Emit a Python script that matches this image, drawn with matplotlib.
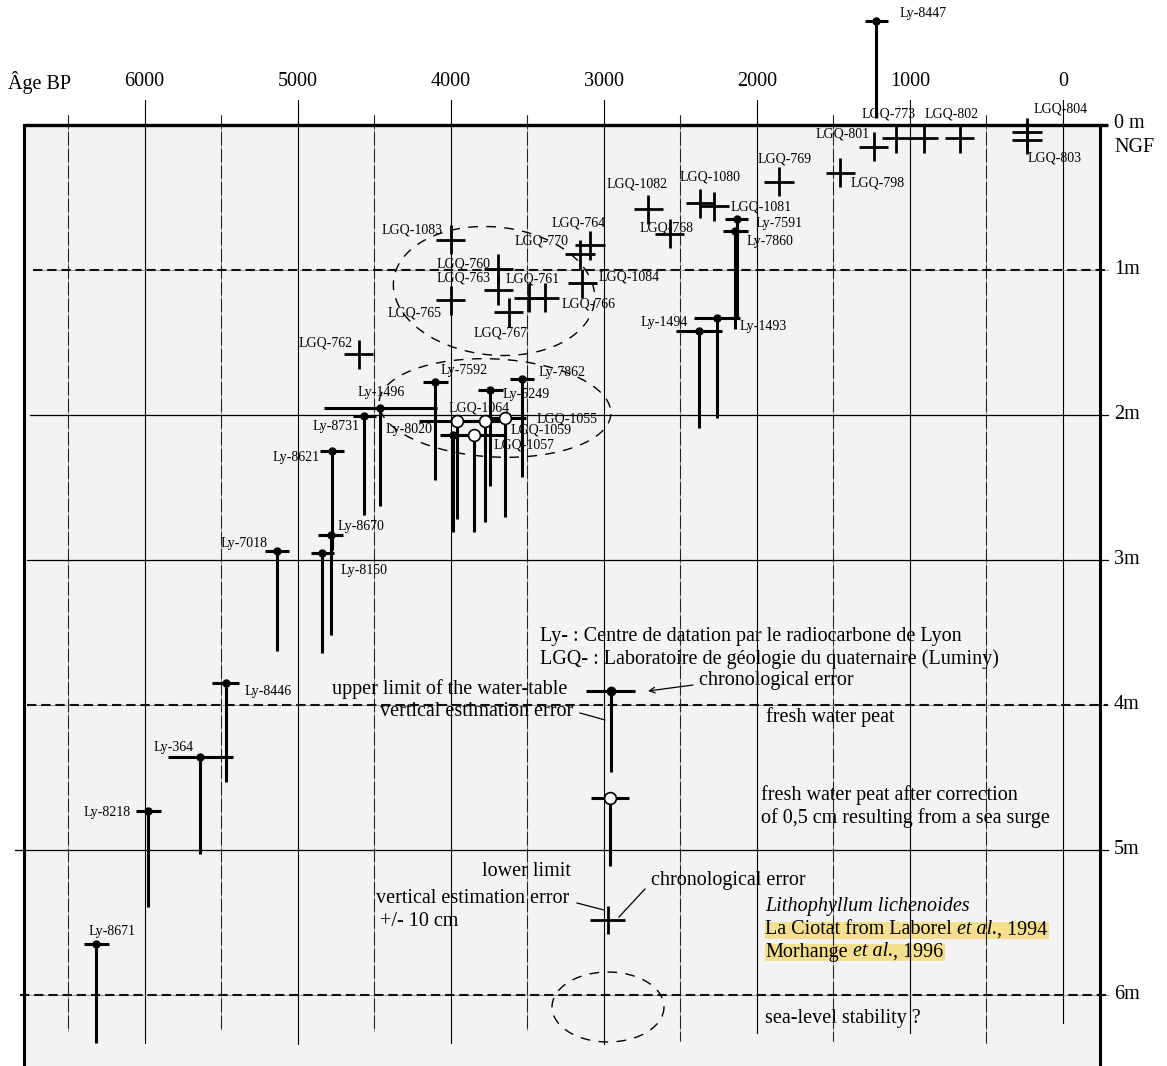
import matplotlib
matplotlib.use("Agg")
import matplotlib.pyplot as plt
from matplotlib.patches import Rectangle
from matplotlib.transforms import Bbox
import numpy as np

plt.rcParams['font.family'] = ['Liberation Serif', 'DejaVu Serif']

# ---------------- data ----------------
# Ly- samples: filled dot, chronological error (yr), vertical estimation error down to *_bottom (m)
ly_names = ['Ly-8447', 'Ly-7591', 'Ly-7860', 'Ly-1493', 'Ly-1494', 'Ly-7862', 'Ly-5249',
            'Ly-7592', 'Ly-1496', 'Ly-8731', 'Ly-8020', 'Ly-8621', 'Ly-8670', 'Ly-8150',
            'Ly-7018', 'Ly-8446', 'Ly-364', 'Ly-8218', 'Ly-8671']
ly_age = [1220, 2130, 2140, 2260, 2380, 3535, 3740, 4100, 4460, 4565, 3985, 4775, 4785, 4840,
          5135, 5470, 5635, 5975, 6315]
ly_age_err = [75, 75, 80, 150, 150, 80, 80, 80, 370, 75, 85, 80, 80, 75, 80, 90, 210, 80, 80]
ly_depth = [-0.72, 0.65, 0.73, 1.33, 1.42, 1.75, 1.83, 1.77, 1.95, 2.01, 2.14, 2.25, 2.83, 2.95,
            2.94, 3.85, 4.36, 4.73, 5.65]
ly_bottom = [-0.05, 1.33, 1.41, 2.02, 2.09, 2.43, 2.49, 2.45, 2.63, 2.69, 2.81, 2.93, 3.52, 3.64,
             3.63, 4.53, 5.03, 5.39, 6.33]

# LGQ- fresh water peat after correction (open circles)
peat_names = ['LGQ-1064', 'LGQ-1059', 'LGQ-1055', 'LGQ-1057']
peat_age = [3960, 3775, 3645, 3845]
peat_age_err = [250, 130, 140, 200]
peat_depth = [2.04, 2.04, 2.02, 2.14]
peat_bottom = [2.72, 2.74, 2.70, 2.81]

# LGQ- Lithophyllum lichenoides lower limits (crosses, +/- 10 cm)
lith_names = ['LGQ-1083', 'LGQ-760', 'LGQ-763', 'LGQ-765', 'LGQ-767', 'LGQ-761', 'LGQ-766',
              'LGQ-764', 'LGQ-770', 'LGQ-1084', 'LGQ-762', 'LGQ-1082', 'LGQ-768', 'LGQ-1080',
              'LGQ-1081', 'LGQ-769', 'LGQ-798', 'LGQ-801', 'LGQ-773', '', 'LGQ-802',
              'LGQ-804', 'LGQ-803']
lith_age = [4000, 3690, 3690, 4000, 3620, 3490, 3385, 3090, 3155, 3140, 4600, 2710, 2570, 2370,
            2280, 1855, 1455, 1235, 1090, 910, 675, 235, 235]
lith_depth = [0.79, 0.99, 1.14, 1.21, 1.29, 1.19, 1.19, 0.83, 0.89, 1.09, 1.58, 0.58, 0.75, 0.54,
              0.56, 0.39, 0.33, 0.15, 0.09, 0.09, 0.09, 0.05, 0.10]
lith_age_err = 95
lith_depth_err = 0.10

# legend example symbols
key_filled = dict(age=2955, err=160, depth=3.90, bottom=4.46)
key_open = dict(age=2960, err=125, depth=4.64, bottom=5.11)
key_cross = dict(age=2975, err=115, depth=5.48, derr=0.097)

age_ticks = [6000, 5000, 4000, 3000, 2000, 1000, 0]
grid_ages = [6500, 6000, 5500, 5000, 4500, 4000, 3500, 3000, 2500, 2000, 1500, 1000, 500, 0]
depth_levels = [1, 2, 3, 4, 5, 6]

# ---------------- layout ----------------
W, H, DPI = 1167, 1066, 100
X_ZERO_PX, PX_PER_YEAR = 1063.0, 0.15308
Y_ZERO_PX, PX_PER_M = 125.0, 145.0


def px(x, y):
    return (X_ZERO_PX - x) / PX_PER_YEAR, (y - Y_ZERO_PX) / PX_PER_M


fig = plt.figure(figsize=(W / DPI, H / DPI), dpi=DPI)
ax = fig.add_axes([0, 0, 1, 1])
ax.set_axis_off()
x_left, y_top = px(0, 0)
x_right, y_bottom = px(W, H)
ax.set_xlim(x_left, x_right)
ax.set_ylim(y_bottom, y_top)

BIG = 14.5
SMALL = 10
LW = 2.2

frame_l, _ = px(24, 0)
frame_r, _ = px(1100, 0)
tick_end, _ = px(1108, 0)

# background
ax.add_patch(Rectangle((frame_r, 0), frame_l - frame_r, y_bottom, fc='#f3f3f3', ec='none', zorder=0))

# vertical grid lines
vbottom = {6500: 6.25, 6000: 6.33, 5500: 6.24, 5000: 6.34, 4500: 6.25, 4000: 6.33, 3500: 6.24,
           3000: 6.34, 2500: 6.32, 2000: 6.26, 1500: 6.32, 1000: 6.26, 500: 6.33, 0: 6.19}
for a in grid_ages:
    top = -0.17 if a % 1000 == 0 else -0.07
    if a % 1000 == 0:
        ax.plot([a, a], [top, vbottom[a]], color='k', lw=0.8, zorder=1)
    else:
        ax.plot([a, a], [top, vbottom[a]], color='#888888', lw=0.6, zorder=1)
        ax.plot([a, a], [top, vbottom[a]], color='#222222', lw=0.8, dashes=(12, 3), zorder=1)

# horizontal lines
hstart_px = {1: 33, 2: 30, 3: 27, 4: 27, 5: 15, 6: 20}
dashed_levels = {1, 4, 6}
for d in depth_levels:
    xs, _ = px(hstart_px[d], 0)
    if d in dashed_levels:
        ax.plot([xs, tick_end], [d, d], color='#999999', lw=0.7, zorder=1)
        ax.plot([xs, tick_end], [d, d], color='#111111', lw=1.5, dashes=(4.5, 2.3), zorder=1)
    else:
        ax.plot([xs, tick_end], [d, d], color='k', lw=0.9, zorder=1)

# frame
ax.plot([frame_l, tick_end], [0, 0], color='k', lw=2.4, zorder=2, solid_capstyle='butt')
ax.plot([frame_l, frame_l], [0, y_bottom], color='k', lw=2.2, zorder=2)
ax.plot([frame_r, frame_r], [0, y_bottom], color='k', lw=2.2, zorder=2)

# tick labels
for a in age_ticks:
    ax.text(a, px(0, 82)[1], str(a), ha='center', va='center', fontsize=BIG)
ax.text(px(8, 0)[0], px(0, 83)[1], 'Âge BP', ha='left', va='center', fontsize=BIG)
rx, _ = px(1114, 0)
ax.text(rx, px(0, 124)[1], '0 m', ha='left', va='center', fontsize=BIG)
ax.text(rx, px(0, 148)[1], 'NGF', ha='left', va='center', fontsize=BIG)
for d in depth_levels:
    ax.text(rx, d - 0.005, f'{d}m', ha='left', va='center', fontsize=BIG)

# ---------------- data marks ----------------
ly_up = np.zeros(len(ly_age))
ly_down = np.array(ly_bottom) - np.array(ly_depth)
ax.errorbar(ly_age, ly_depth, xerr=ly_age_err, yerr=[ly_up, ly_down], fmt='o', color='k',
            ms=5, elinewidth=LW, capsize=0, zorder=3)

pt_down = np.array(peat_bottom) - np.array(peat_depth)
ax.errorbar(peat_age, peat_depth, xerr=peat_age_err, yerr=[np.zeros(len(peat_age)), pt_down],
            fmt='o', color='k', mfc='white', mec='k', mew=1.2, ms=8.5, elinewidth=LW,
            capsize=0, zorder=4)

ax.errorbar(lith_age, lith_depth, xerr=lith_age_err, yerr=lith_depth_err, fmt='none',
            ecolor='k', elinewidth=2.0, capsize=0, zorder=3)

# legend symbols
ax.errorbar([key_filled['age']], [key_filled['depth']], xerr=key_filled['err'],
            yerr=[[0], [key_filled['bottom'] - key_filled['depth']]], fmt='o', color='k', ms=6,
            elinewidth=LW, capsize=0, zorder=3)
ax.errorbar([key_open['age']], [key_open['depth']], xerr=key_open['err'],
            yerr=[[0], [key_open['bottom'] - key_open['depth']]], fmt='o', color='k', mfc='white',
            mec='k', mew=1.2, ms=8.5, elinewidth=LW, capsize=0, zorder=4)
ax.errorbar([key_cross['age']], [key_cross['depth']], xerr=key_cross['err'], yerr=key_cross['derr'],
            fmt='none', ecolor='k', elinewidth=2.0, capsize=0, zorder=3)

# ---------------- sample labels (offsets in pixels: dx, dy downwards, ha) ----------------
label_pos = {
    'Ly-8447': (23, -7, 'left'), 'Ly-7591': (19, 4, 'left'), 'Ly-7860': (11, 11, 'left'),
    'Ly-1493': (22, 9, 'left'), 'Ly-1494': (-11, -8, 'right'), 'Ly-7862': (17, -6, 'left'),
    'Ly-5249': (12, 4, 'left'), 'Ly-7592': (5, -11, 'left'), 'Ly-1496': (-23, -15, 'left'),
    'Ly-8731': (-5, 10, 'right'), 'Ly-8020': (-20, -6, 'right'), 'Ly-8621': (-12, 6, 'right'),
    'Ly-8670': (7, -9, 'left'), 'Ly-8150': (18, 18, 'left'), 'Ly-7018': (-9, -8, 'right'),
    'Ly-8446': (19, 8, 'left'), 'Ly-364': (-7, -10, 'right'), 'Ly-8218': (-18, 2, 'right'),
    'Ly-8671': (16, -13, 'center'),
    'LGQ-1064': (-8, -13, 'left'), 'LGQ-1059': (25, 9, 'left'), 'LGQ-1055': (32, 1, 'left'),
    'LGQ-1057': (19, 10, 'left'),
    'LGQ-1083': (-8, -10, 'right'), 'LGQ-760': (-8, -5, 'right'), 'LGQ-763': (-8, -12, 'right'),
    'LGQ-765': (-9, 13, 'right'), 'LGQ-767': (-8, 21, 'center'), 'LGQ-761': (4, -19, 'center'),
    'LGQ-766': (17, 6, 'left'), 'LGQ-764': (-11, -22, 'center'), 'LGQ-770': (-12, -13, 'right'),
    'LGQ-1084': (16, -6, 'left'), 'LGQ-762': (-6, -11, 'right'), 'LGQ-1082': (-11, -25, 'center'),
    'LGQ-768': (-3, -6, 'center'), 'LGQ-1080': (10, -26, 'center'), 'LGQ-1081': (17, 1, 'left'),
    'LGQ-769': (6, -23, 'center'), 'LGQ-798': (10, 10, 'left'), 'LGQ-801': (-4, -13, 'right'),
    'LGQ-773': (-8, -24, 'center'), 'LGQ-802': (-8, -24, 'center'), 'LGQ-804': (7, -23, 'left'),
    'LGQ-803': (1, 19, 'left'),
}
for names, ages, depths in [(ly_names, ly_age, ly_depth), (peat_names, peat_age, peat_depth),
                            (lith_names, lith_age, lith_depth)]:
    for n, a, d in zip(names, ages, depths):
        if not n:
            continue
        dx, dy, ha = label_pos[n]
        ax.annotate(n, (a, d), xytext=(dx, -dy), textcoords='offset pixels', ha=ha, va='center',
                    fontsize=SMALL, zorder=5)

# ---------------- dashed ellipses ----------------
def dashed_ellipse(cx, cy, rx_, ry_, ang_deg):
    t = np.linspace(0, 2 * np.pi, 200)
    a = np.deg2rad(ang_deg)
    xe = cx + rx_ * np.cos(t) * np.cos(a) - ry_ * np.sin(t) * np.sin(a)
    ye = cy + rx_ * np.cos(t) * np.sin(a) + ry_ * np.sin(t) * np.cos(a)
    X, Y = px(xe, ye)
    ax.plot(X, Y, color='k', lw=1.0, dashes=(7, 6), zorder=2)


dashed_ellipse(494, 291, 101, 64, 6)
dashed_ellipse(495, 408, 116, 49, 3)
dashed_ellipse(608, 1007, 56, 35, 0)

# ---------------- legend texts ----------------
def txt(xp, yp, s, ha='left', **kw):
    x, y = px(xp, yp)
    return ax.text(x, y, s, ha=ha, va='center', fontsize=BIG, zorder=5, **kw)


def line_px(p0, p1, lw=0.9):
    x0, y0 = px(*p0)
    x1, y1 = px(*p1)
    ax.plot([x0, x1], [y0, y1], color='k', lw=lw, zorder=5)


txt(540, 636, 'Ly- : Centre de datation par le radiocarbone de Lyon')
txt(540, 659, 'LGQ- : Laboratoire de géologie du quaternaire (Luminy)')
txt(567, 689, 'upper limit of the water-table', ha='right')
txt(699, 681, 'chronological error')
ax.annotate('', xy=px(648, 691), xytext=px(693, 685),
            arrowprops=dict(arrowstyle='->', lw=0.9, color='k', shrinkA=0, shrinkB=0), zorder=5)
txt(573, 711, 'vertical estimation error', ha='right')
line_px((580, 713), (605, 720))
txt(766, 717, 'fresh water peat')
txt(761, 795, 'fresh water peat after correction')
txt(761, 818, 'of 0,5 cm resulting from a sea surge')
txt(571, 871, 'lower limit', ha='right')
txt(651, 880, 'chronological error')
line_px((645, 889), (619, 917))
txt(569, 899, 'vertical estimation error', ha='right')
line_px((577, 903), (604, 910))
txt(380, 922, '+/- 10 cm')
txt(765, 907, 'Lithophyllum lichenoides', fontstyle='italic')
txt(765, 1018, 'sea-level stability ?')


def rich(xp, yp, pieces):
    x, y = px(xp, yp)
    arts = []
    for s, style in pieces:
        if not arts:
            t = ax.text(x, y, s, ha='left', va='center', fontsize=BIG, fontstyle=style, zorder=5)
        else:
            t = ax.annotate(s, xy=(1, 0), xycoords=arts[-1], ha='left', va='bottom',
                            fontsize=BIG, fontstyle=style, zorder=5)
        arts.append(t)
    return arts


hl1 = rich(765, 930, [('La Ciotat from Laborel', 'normal'), (' et al.', 'italic'), (', 1994', 'normal')])
hl2 = rich(765, 952, [('Morhange', 'normal'), (' et al.', 'italic'), (', 1996', 'normal')])

fig.canvas.draw()
renderer = fig.canvas.get_renderer()
inv = ax.transData.inverted()
for arts in (hl1, hl2):
    bb = Bbox.union([a.get_window_extent(renderer) for a in arts])
    (x0, y0), (x1, y1) = inv.transform([[bb.x0, bb.y0 + 1], [bb.x1 + 2, bb.y1 - 1]])
    ax.add_patch(Rectangle((min(x0, x1), min(y0, y1)), abs(x1 - x0), abs(y1 - y0),
                           fc='#f4df8e', ec='none', zorder=0.5))

fig.savefig('out.png', dpi=DPI)
